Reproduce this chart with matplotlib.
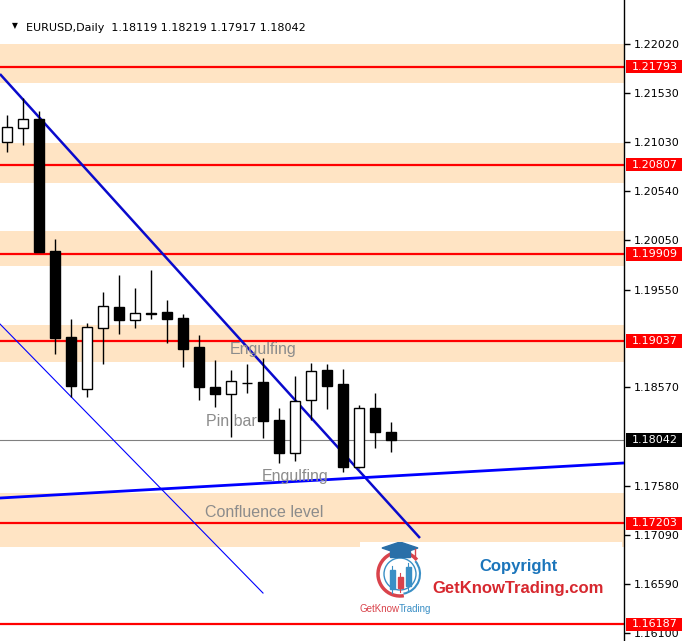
import matplotlib
matplotlib.use('Agg')
import matplotlib.pyplot as plt
import matplotlib.transforms as mtransforms
from matplotlib.patches import Rectangle, Arc, Circle, Polygon

W, H, DPI = 682, 641, 100

# ---- data (EURUSD daily candles) ----
opens  = [1.21035, 1.21176, 1.21266, 1.19939, 1.19075, 1.18553, 1.19166, 1.19377, 1.19246,
          1.19316, 1.19326, 1.19266, 1.18975, 1.18573, 1.18502, 1.18613, 1.18623, 1.18241,
          1.17909, 1.18442, 1.18744, 1.18603, 1.17769, 1.18362, 1.18119]
highs  = [1.21306, 1.21477, 1.21346, 1.20060, 1.19256, 1.19216, 1.19527, 1.19698, 1.19568,
          1.19749, 1.19447, 1.19306, 1.19095, 1.18844, 1.18744, 1.18804, 1.18864, 1.18362,
          1.18683, 1.18814, 1.18804, 1.18754, 1.18392, 1.18512, 1.18219]
lows   = [1.20934, 1.21005, 1.19925, 1.18904, 1.18472, 1.18472, 1.18804, 1.19105, 1.19166,
          1.19256, 1.19015, 1.18774, 1.18442, 1.18372, 1.18070, 1.18512, 1.18060, 1.17809,
          1.17829, 1.18241, 1.18352, 1.17718, 1.17759, 1.17960, 1.17917]
closes = [1.21186, 1.21266, 1.19929, 1.19065, 1.18583, 1.19176, 1.19387, 1.19246, 1.19316,
          1.19311, 1.19256, 1.18955, 1.18573, 1.18502, 1.18633, 1.18608, 1.18231, 1.17909,
          1.18432, 1.18733, 1.18583, 1.17769, 1.18362, 1.18120, 1.18042]

levels = [1.21793, 1.20807, 1.19909, 1.19037, 1.17203, 1.16187]
zones = [(1.21628, 1.22020), (1.20623, 1.21025), (1.19789, 1.20140),
         (1.18824, 1.19196), (1.16965, 1.17507)]
last_price = 1.18042
yticks = [1.22020, 1.21530, 1.21030, 1.20540, 1.20050, 1.19550,
          1.18570, 1.17580, 1.17090, 1.16590, 1.16100]

trend_main = ([-0.44, 25.81], [1.21718, 1.17055])
trend_thin = ([-0.44, 16.00], [1.19206, 1.16502])
trend_flat = ([-0.44, 38.56], [1.17457, 1.17809])

notes = [("Engulfing", 13.94, 1.18904), ("Pin bar", 12.44, 1.18184),
         ("Engulfing", 15.94, 1.17631), ("Confluence level", 12.375, 1.17266)]

title = "EURUSD,Daily  1.18119 1.18219 1.17917 1.18042"

# ---- figure ----
fig = plt.figure(figsize=(W / DPI, H / DPI), dpi=DPI)
ax = fig.add_axes([0, 0, 624 / W, 1])
ax.set_xlim(-7 / 16, (624 - 7) / 16)
ax.set_ylim(1.16020, 1.22462)

for lo, hi in zones:
    ax.axhspan(lo, hi, color='#FFE4C4', lw=0, zorder=0)
for lv in levels:
    ax.axhline(lv, color='#FF0000', lw=1.6, zorder=1)
ax.axhline(last_price, color='#808080', lw=0.8, zorder=1)

ax.plot(*trend_main, color='#0A0ACC', lw=1.8, zorder=4, solid_capstyle='butt')
ax.plot(*trend_thin, color='#0000FF', lw=0.8, zorder=4)
ax.plot(*trend_flat, color='#0000FF', lw=2.0, zorder=4)

idx = list(range(len(opens)))
ax.vlines(idx, lows, highs, color='black', lw=1.0, zorder=5)
bottoms = [min(o, c) for o, c in zip(opens, closes)]
heights = [max(abs(c - o), 0.00002) for o, c in zip(opens, closes)]
faces = ['white' if c >= o else 'black' for o, c in zip(opens, closes)]
ax.bar(idx, heights, bottom=bottoms, width=0.64, color=faces,
       edgecolor='black', linewidth=1.0, zorder=6)

for s, x, y in notes:
    ax.text(x, y, s, color='#8C8C8C', fontsize=11.5, family='Liberation Sans',
            va='baseline', ha='left', zorder=7)

for side in ['left', 'top', 'bottom']:
    ax.spines[side].set_visible(False)
ax.spines['right'].set_linewidth(1.0)
ax.set_xticks([])
ax.yaxis.tick_right()
ax.set_yticks(yticks)
ax.set_yticklabels(['%.5f' % t for t in yticks])
ax.tick_params(axis='y', length=4, width=1, pad=3, labelsize=8, colors='black')

# price labels on the right
trans = mtransforms.blended_transform_factory(fig.transFigure, ax.transData)
box_h = 0.00135
for lv, col in [(l, '#FF0000') for l in levels] + [(last_price, 'black')]:
    fig.add_artist(Rectangle((626 / W, lv - box_h / 2), 56 / W, box_h,
                             transform=trans, facecolor=col, edgecolor='none',
                             zorder=2))
    fig.text(632 / W, lv, '%.5f' % lv, transform=trans, color='white',
             fontsize=8, va='center', ha='left', zorder=3)

# title
fig.text(26 / W, 1 - 31 / H, title, fontsize=8, va='baseline', ha='left')
fig.text(15 / W, 1 - 26 / H, '\u25BC', fontsize=5.5, va='center', ha='center')

# ---- logo ----
lg = fig.add_axes([360 / W, 1 - 620 / H, 262 / W, 78 / H])
lg.set_xlim(360, 622)
lg.set_ylim(620, 542)
lg.set_facecolor('white')
lg.set_xticks([])
lg.set_yticks([])
for s in lg.spines.values():
    s.set_visible(False)
lg.add_patch(Arc((400, 574), 40, 40, theta1=-40, theta2=80, color='#3A8FC5', lw=1.5))
lg.add_patch(Arc((400, 574), 44, 44, theta1=80, theta2=320, color='#D9434B', lw=2.5))
lg.add_patch(Circle((400, 574), 16, fill=False, ec='#3A8FC5', lw=1.0))
for cx, y0, y1, w0, w1, col in [(392, 570, 589, 566, 593, '#3A8FC5'),
                                 (400, 577, 588, 573, 592, '#D9434B'),
                                 (408, 567, 586, 563, 590, '#3A8FC5')]:
    lg.plot([cx, cx], [w0, w1], color=col, lw=0.8)
    lg.add_patch(Rectangle((cx - 2.5, y0), 5, y1 - y0, color=col))
lg.add_patch(Polygon([(400, 542), (382, 548), (400, 554), (418, 548)], color='#2A6FA8'))
lg.add_patch(Polygon([(390, 551), (410, 551), (410, 557), (390, 557)], color='#2A6FA8'))
lg.plot([415, 415], [549, 559], color='#D9434B', lw=1.0)
lg.text(399, 609, 'GetKnow', color='#D9434B', fontsize=7, ha='right', va='center',
        family='Liberation Sans')
lg.text(399, 609, 'Trading', color='#3A8FC5', fontsize=7, ha='left', va='center',
        family='Liberation Sans')
lg.text(518, 566, 'Copyright', color='#1B75BB', fontsize=12, fontweight='bold',
        ha='center', va='center', family='Liberation Sans')
lg.text(518, 589, 'GetKnowTrading.com', color='#D7282F', fontsize=12,
        fontweight='bold', ha='center', va='center', family='Liberation Sans')

fig.savefig('out.png', dpi=DPI)
